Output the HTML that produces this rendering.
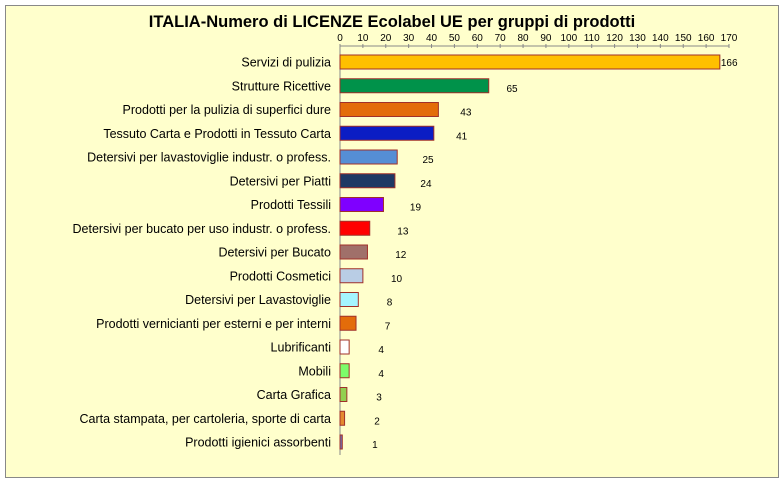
<!DOCTYPE html>
<html><head><meta charset="utf-8"><style>
body{margin:0;background:#fff;}
svg{display:block;font-family:"Liberation Sans",sans-serif;}
</style></head><body>
<svg id="c" width="783" height="482">
<rect x="5.5" y="5.5" width="773" height="472" fill="#FFFFCC" stroke="#888"/>
<text x="392" y="27" text-anchor="middle" font-size="16.5" font-weight="bold">ITALIA-Numero di LICENZE  Ecolabel UE per gruppi di prodotti</text>
</svg>
<script>
const categories=["Servizi di pulizia","Strutture Ricettive","Prodotti per la pulizia di superfici dure","Tessuto Carta e Prodotti in Tessuto Carta","Detersivi per lavastoviglie industr. o profess.","Detersivi per Piatti","Prodotti Tessili","Detersivi per bucato per uso industr. o profess.","Detersivi per Bucato","Prodotti Cosmetici","Detersivi per Lavastoviglie","Prodotti vernicianti per esterni e per interni","Lubrificanti","Mobili","Carta Grafica ","Carta stampata, per cartoleria, sporte di carta","Prodotti igienici assorbenti"];
const values=[166,65,43,41,25,24,19,13,12,10,8,7,4,4,3,2,1];
const colors=["#FFC000","#00924A","#E36C0A","#0B1DC4","#558ED5","#1F3864","#7F00FF","#FF0000","#A0706A","#B9CDE5","#A5F5FF","#E36C0A","#FFFFFF","#7CFC6A","#92D050","#E4892F","#7070B0"];
const ticks=[0,10,20,30,40,50,60,70,80,90,100,110,120,130,140,150,160,170];
const svg=document.getElementById('c');const NS='http://www.w3.org/2000/svg';
const x0=340,x1=729,xmax=170;
const xs=v=>x0+v*(x1-x0)/xmax;
const y0=62,step=23.75,bh=14;
function mk(t,a){const e=document.createElementNS(NS,t);for(const k in a)e.setAttribute(k,a[k]);svg.appendChild(e);return e;}
const ax=mk('line',{x1:x0,y1:46,x2:x0,y2:455,stroke:'#888'});


const xa=mk('line',{x1:x0,y1:46,x2:x1,y2:46,stroke:'#888'});


ticks.forEach(t=>{
  mk('line',{x1:xs(t),y1:44,x2:xs(t),y2:48,stroke:'#888'});
  const tx=mk('text',{x:xs(t),y:41,'text-anchor':'middle','font-size':'10'});tx.textContent=t;
  
  
});
categories.forEach((c,i)=>{
  const cy=y0+i*step,v=values[i];
  const r=mk('rect',{x:x0,y:cy-bh/2,width:xs(v)-x0,height:bh,fill:colors[i],stroke:'#A0302A','stroke-width':1});
  
  
  const l=mk('text',{x:331,y:cy+4.5,'text-anchor':'end','font-size':'12.5'});l.textContent=c;
  
  
  const vx=i==0?xs(v)+1:370+v*2.1;
  const vl=mk('text',{x:vx,y:cy+4+(i==0?0:2),'font-size':'10'});vl.textContent=v;
  
  
});
</script>
</body></html>
